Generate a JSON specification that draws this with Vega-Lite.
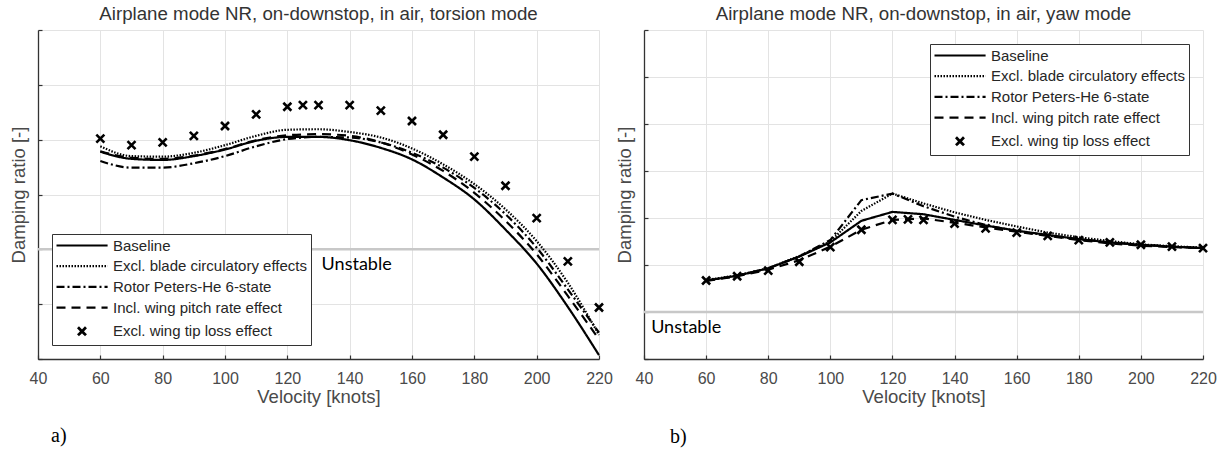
{
  "$schema": "https://vega.github.io/schema/vega-lite/v6.json",
  "padding": {"left": 9, "top": 4, "right": 0, "bottom": 0},
  "background": "white",
  "datasets": {
    "torsion": [
      {"series": "Baseline", "v": 60, "z": 1.78}, {"series": "Baseline", "v": 70, "z": 1.65}, {"series": "Baseline", "v": 80, "z": 1.63}, {"series": "Baseline", "v": 90, "z": 1.70}, {"series": "Baseline", "v": 100, "z": 1.82}, {"series": "Baseline", "v": 110, "z": 1.98}, {"series": "Baseline", "v": 120, "z": 2.05}, {"series": "Baseline", "v": 130, "z": 2.05}, {"series": "Baseline", "v": 140, "z": 1.99}, {"series": "Baseline", "v": 150, "z": 1.85}, {"series": "Baseline", "v": 160, "z": 1.64}, {"series": "Baseline", "v": 170, "z": 1.31}, {"series": "Baseline", "v": 180, "z": 0.91}, {"series": "Baseline", "v": 190, "z": 0.36}, {"series": "Baseline", "v": 200, "z": -0.26}, {"series": "Baseline", "v": 210, "z": -1.05}, {"series": "Baseline", "v": 220, "z": -1.93},
      {"series": "Excl. blade circulatory effects", "v": 60, "z": 1.88}, {"series": "Excl. blade circulatory effects", "v": 70, "z": 1.70}, {"series": "Excl. blade circulatory effects", "v": 80, "z": 1.69}, {"series": "Excl. blade circulatory effects", "v": 90, "z": 1.76}, {"series": "Excl. blade circulatory effects", "v": 100, "z": 1.90}, {"series": "Excl. blade circulatory effects", "v": 110, "z": 2.07}, {"series": "Excl. blade circulatory effects", "v": 120, "z": 2.18}, {"series": "Excl. blade circulatory effects", "v": 130, "z": 2.19}, {"series": "Excl. blade circulatory effects", "v": 140, "z": 2.14}, {"series": "Excl. blade circulatory effects", "v": 150, "z": 2.04}, {"series": "Excl. blade circulatory effects", "v": 160, "z": 1.84}, {"series": "Excl. blade circulatory effects", "v": 170, "z": 1.55}, {"series": "Excl. blade circulatory effects", "v": 180, "z": 1.19}, {"series": "Excl. blade circulatory effects", "v": 190, "z": 0.73}, {"series": "Excl. blade circulatory effects", "v": 200, "z": 0.15}, {"series": "Excl. blade circulatory effects", "v": 210, "z": -0.61}, {"series": "Excl. blade circulatory effects", "v": 220, "z": -1.56},
      {"series": "Rotor Peters-He 6-state", "v": 60, "z": 1.61}, {"series": "Rotor Peters-He 6-state", "v": 70, "z": 1.49}, {"series": "Rotor Peters-He 6-state", "v": 80, "z": 1.49}, {"series": "Rotor Peters-He 6-state", "v": 90, "z": 1.57}, {"series": "Rotor Peters-He 6-state", "v": 100, "z": 1.70}, {"series": "Rotor Peters-He 6-state", "v": 110, "z": 1.88}, {"series": "Rotor Peters-He 6-state", "v": 120, "z": 2.01}, {"series": "Rotor Peters-He 6-state", "v": 130, "z": 2.05}, {"series": "Rotor Peters-He 6-state", "v": 140, "z": 2.04}, {"series": "Rotor Peters-He 6-state", "v": 150, "z": 1.95}, {"series": "Rotor Peters-He 6-state", "v": 160, "z": 1.76}, {"series": "Rotor Peters-He 6-state", "v": 170, "z": 1.49}, {"series": "Rotor Peters-He 6-state", "v": 180, "z": 1.12}, {"series": "Rotor Peters-He 6-state", "v": 190, "z": 0.64}, {"series": "Rotor Peters-He 6-state", "v": 200, "z": 0.03}, {"series": "Rotor Peters-He 6-state", "v": 210, "z": -0.73}, {"series": "Rotor Peters-He 6-state", "v": 220, "z": -1.52},
      {"series": "Incl. wing pitch rate effect", "v": 60, "z": 1.79}, {"series": "Incl. wing pitch rate effect", "v": 70, "z": 1.67}, {"series": "Incl. wing pitch rate effect", "v": 80, "z": 1.65}, {"series": "Incl. wing pitch rate effect", "v": 90, "z": 1.71}, {"series": "Incl. wing pitch rate effect", "v": 100, "z": 1.83}, {"series": "Incl. wing pitch rate effect", "v": 110, "z": 1.99}, {"series": "Incl. wing pitch rate effect", "v": 120, "z": 2.08}, {"series": "Incl. wing pitch rate effect", "v": 130, "z": 2.10}, {"series": "Incl. wing pitch rate effect", "v": 140, "z": 2.07}, {"series": "Incl. wing pitch rate effect", "v": 150, "z": 1.95}, {"series": "Incl. wing pitch rate effect", "v": 160, "z": 1.73}, {"series": "Incl. wing pitch rate effect", "v": 170, "z": 1.43}, {"series": "Incl. wing pitch rate effect", "v": 180, "z": 1.03}, {"series": "Incl. wing pitch rate effect", "v": 190, "z": 0.52}, {"series": "Incl. wing pitch rate effect", "v": 200, "z": -0.09}, {"series": "Incl. wing pitch rate effect", "v": 210, "z": -0.85}, {"series": "Incl. wing pitch rate effect", "v": 220, "z": -1.64},
      {"series": "Excl. wing tip loss effect", "v": 60, "z": 2.02}, {"series": "Excl. wing tip loss effect", "v": 70, "z": 1.90}, {"series": "Excl. wing tip loss effect", "v": 80, "z": 1.95}, {"series": "Excl. wing tip loss effect", "v": 90, "z": 2.07}, {"series": "Excl. wing tip loss effect", "v": 100, "z": 2.25}, {"series": "Excl. wing tip loss effect", "v": 110, "z": 2.46}, {"series": "Excl. wing tip loss effect", "v": 120, "z": 2.60}, {"series": "Excl. wing tip loss effect", "v": 125, "z": 2.63}, {"series": "Excl. wing tip loss effect", "v": 130, "z": 2.63}, {"series": "Excl. wing tip loss effect", "v": 140, "z": 2.63}, {"series": "Excl. wing tip loss effect", "v": 150, "z": 2.53}, {"series": "Excl. wing tip loss effect", "v": 160, "z": 2.34}, {"series": "Excl. wing tip loss effect", "v": 170, "z": 2.09}, {"series": "Excl. wing tip loss effect", "v": 180, "z": 1.69}, {"series": "Excl. wing tip loss effect", "v": 190, "z": 1.16}, {"series": "Excl. wing tip loss effect", "v": 200, "z": 0.57}, {"series": "Excl. wing tip loss effect", "v": 210, "z": -0.22}, {"series": "Excl. wing tip loss effect", "v": 220, "z": -1.06}
    ],
    "yaw": [
      {"series": "Baseline", "v": 60, "z": 0.67}, {"series": "Baseline", "v": 70, "z": 0.77}, {"series": "Baseline", "v": 80, "z": 0.93}, {"series": "Baseline", "v": 90, "z": 1.18}, {"series": "Baseline", "v": 100, "z": 1.48}, {"series": "Baseline", "v": 110, "z": 1.94}, {"series": "Baseline", "v": 120, "z": 2.13}, {"series": "Baseline", "v": 130, "z": 2.08}, {"series": "Baseline", "v": 140, "z": 1.96}, {"series": "Baseline", "v": 150, "z": 1.84}, {"series": "Baseline", "v": 160, "z": 1.73}, {"series": "Baseline", "v": 170, "z": 1.64}, {"series": "Baseline", "v": 180, "z": 1.55}, {"series": "Baseline", "v": 190, "z": 1.48}, {"series": "Baseline", "v": 200, "z": 1.43}, {"series": "Baseline", "v": 210, "z": 1.39}, {"series": "Baseline", "v": 220, "z": 1.36},
      {"series": "Excl. blade circulatory effects", "v": 60, "z": 0.68}, {"series": "Excl. blade circulatory effects", "v": 70, "z": 0.78}, {"series": "Excl. blade circulatory effects", "v": 80, "z": 0.93}, {"series": "Excl. blade circulatory effects", "v": 90, "z": 1.19}, {"series": "Excl. blade circulatory effects", "v": 100, "z": 1.50}, {"series": "Excl. blade circulatory effects", "v": 110, "z": 2.15}, {"series": "Excl. blade circulatory effects", "v": 120, "z": 2.52}, {"series": "Excl. blade circulatory effects", "v": 130, "z": 2.31}, {"series": "Excl. blade circulatory effects", "v": 140, "z": 2.12}, {"series": "Excl. blade circulatory effects", "v": 150, "z": 1.96}, {"series": "Excl. blade circulatory effects", "v": 160, "z": 1.82}, {"series": "Excl. blade circulatory effects", "v": 170, "z": 1.69}, {"series": "Excl. blade circulatory effects", "v": 180, "z": 1.59}, {"series": "Excl. blade circulatory effects", "v": 190, "z": 1.51}, {"series": "Excl. blade circulatory effects", "v": 200, "z": 1.44}, {"series": "Excl. blade circulatory effects", "v": 210, "z": 1.40}, {"series": "Excl. blade circulatory effects", "v": 220, "z": 1.37},
      {"series": "Rotor Peters-He 6-state", "v": 60, "z": 0.67}, {"series": "Rotor Peters-He 6-state", "v": 70, "z": 0.77}, {"series": "Rotor Peters-He 6-state", "v": 80, "z": 0.93}, {"series": "Rotor Peters-He 6-state", "v": 90, "z": 1.18}, {"series": "Rotor Peters-He 6-state", "v": 100, "z": 1.53}, {"series": "Rotor Peters-He 6-state", "v": 110, "z": 2.38}, {"series": "Rotor Peters-He 6-state", "v": 120, "z": 2.52}, {"series": "Rotor Peters-He 6-state", "v": 130, "z": 2.25}, {"series": "Rotor Peters-He 6-state", "v": 140, "z": 2.03}, {"series": "Rotor Peters-He 6-state", "v": 150, "z": 1.85}, {"series": "Rotor Peters-He 6-state", "v": 160, "z": 1.72}, {"series": "Rotor Peters-He 6-state", "v": 170, "z": 1.63}, {"series": "Rotor Peters-He 6-state", "v": 180, "z": 1.55}, {"series": "Rotor Peters-He 6-state", "v": 190, "z": 1.48}, {"series": "Rotor Peters-He 6-state", "v": 200, "z": 1.43}, {"series": "Rotor Peters-He 6-state", "v": 210, "z": 1.39}, {"series": "Rotor Peters-He 6-state", "v": 220, "z": 1.36},
      {"series": "Incl. wing pitch rate effect", "v": 60, "z": 0.66}, {"series": "Incl. wing pitch rate effect", "v": 70, "z": 0.76}, {"series": "Incl. wing pitch rate effect", "v": 80, "z": 0.90}, {"series": "Incl. wing pitch rate effect", "v": 90, "z": 1.10}, {"series": "Incl. wing pitch rate effect", "v": 100, "z": 1.39}, {"series": "Incl. wing pitch rate effect", "v": 110, "z": 1.75}, {"series": "Incl. wing pitch rate effect", "v": 120, "z": 1.96}, {"series": "Incl. wing pitch rate effect", "v": 130, "z": 1.99}, {"series": "Incl. wing pitch rate effect", "v": 140, "z": 1.90}, {"series": "Incl. wing pitch rate effect", "v": 150, "z": 1.80}, {"series": "Incl. wing pitch rate effect", "v": 160, "z": 1.71}, {"series": "Incl. wing pitch rate effect", "v": 170, "z": 1.62}, {"series": "Incl. wing pitch rate effect", "v": 180, "z": 1.53}, {"series": "Incl. wing pitch rate effect", "v": 190, "z": 1.46}, {"series": "Incl. wing pitch rate effect", "v": 200, "z": 1.41}, {"series": "Incl. wing pitch rate effect", "v": 210, "z": 1.38}, {"series": "Incl. wing pitch rate effect", "v": 220, "z": 1.36},
      {"series": "Excl. wing tip loss effect", "v": 60, "z": 0.67}, {"series": "Excl. wing tip loss effect", "v": 70, "z": 0.76}, {"series": "Excl. wing tip loss effect", "v": 80, "z": 0.88}, {"series": "Excl. wing tip loss effect", "v": 90, "z": 1.07}, {"series": "Excl. wing tip loss effect", "v": 100, "z": 1.38}, {"series": "Excl. wing tip loss effect", "v": 110, "z": 1.75}, {"series": "Excl. wing tip loss effect", "v": 120, "z": 1.96}, {"series": "Excl. wing tip loss effect", "v": 125, "z": 1.97}, {"series": "Excl. wing tip loss effect", "v": 130, "z": 1.96}, {"series": "Excl. wing tip loss effect", "v": 140, "z": 1.88}, {"series": "Excl. wing tip loss effect", "v": 150, "z": 1.78}, {"series": "Excl. wing tip loss effect", "v": 160, "z": 1.69}, {"series": "Excl. wing tip loss effect", "v": 170, "z": 1.62}, {"series": "Excl. wing tip loss effect", "v": 180, "z": 1.53}, {"series": "Excl. wing tip loss effect", "v": 190, "z": 1.48}, {"series": "Excl. wing tip loss effect", "v": 200, "z": 1.43}, {"series": "Excl. wing tip loss effect", "v": 210, "z": 1.39}, {"series": "Excl. wing tip loss effect", "v": 220, "z": 1.36}
    ]
  },
  "hconcat": [
    {
      "width": 561,
      "height": 329,
      "title": "Airplane mode NR, on-downstop, in air, torsion mode",
      "layer": [
        {
          "data": {"values": [{}]},
          "mark": {"type": "rule", "color": "#c8c8c8", "strokeWidth": 2.5},
          "encoding": {"y": {"datum": 0, "type": "quantitative", "scale": {"domain": [-2, 4], "nice": false}}}
        },
        {
          "data": {"name": "torsion"},
          "transform": [{"filter": "datum.series !== 'Excl. wing tip loss effect'"}],
          "mark": {"type": "line", "color": "black", "strokeWidth": 2.2, "interpolate": "monotone"},
          "encoding": {
            "x": {"field": "v", "type": "quantitative", "title": "Velocity [knots]", "scale": {"domain": [40, 220], "nice": false}, "axis": {"values": [40, 60, 80, 100, 120, 140, 160, 180, 200, 220]}},
            "y": {"field": "z", "type": "quantitative", "title": "Damping ratio [-]", "scale": {"domain": [-2, 4], "nice": false}, "axis": {"values": [-2, -1, 0, 1, 2, 3, 4], "labels": false}},
            "strokeDash": {
              "field": "series", "type": "nominal",
              "scale": {"domain": ["Baseline", "Excl. blade circulatory effects", "Rotor Peters-He 6-state", "Incl. wing pitch rate effect", "Excl. wing tip loss effect"], "range": [[1, 0], [1.5, 1.5], [8, 3, 2, 3], [9, 6], [1, 0]]},
              "legend": {"orient": "bottom-left", "offset": 14, "title": null,
                "encode": {"symbols": {"update": {"shape": {"signal": "datum.value === 'Excl. wing tip loss effect' ? 'M2.07,-0.57L3.21,0.57M3.21,-0.57L2.07,0.57' : 'M-1,0H6.3'"}, "strokeWidth": {"signal": "datum.value === 'Excl. wing tip loss effect' ? 2.8 : 2.2"}}}}}
            }
          }
        },
        {
          "data": {"name": "torsion"},
          "transform": [{"filter": "datum.series === 'Excl. wing tip loss effect'"}],
          "mark": {"type": "point", "shape": "M-1,-1L1,1M1,-1L-1,1", "size": 64, "filled": false, "color": "black", "strokeWidth": 2.6, "opacity": 1},
          "encoding": {
            "x": {"field": "v", "type": "quantitative", "scale": {"domain": [40, 220], "nice": false}},
            "y": {"field": "z", "type": "quantitative", "scale": {"domain": [-2, 4], "nice": false}}
          }
        },
        {
          "data": {"values": [{}]},
          "mark": {"type": "text", "text": "Unstable", "font": "Lato", "fontSize": 18, "align": "left", "baseline": "middle", "fill": "black"},
          "encoding": {
            "x": {"datum": 131, "type": "quantitative", "scale": {"domain": [40, 220], "nice": false}},
            "y": {"datum": -0.29, "type": "quantitative", "scale": {"domain": [-2, 4], "nice": false}}
          }
        },
        {
          "data": {"values": [{}]},
          "mark": {"type": "text", "text": "a)", "font": "Liberation Serif", "fontSize": 20, "align": "left", "baseline": "middle", "fill": "black"},
          "encoding": {
            "x": {"datum": 44.2, "type": "quantitative", "scale": {"domain": [40, 220], "nice": false}},
            "y": {"datum": -3.41, "type": "quantitative", "scale": {"domain": [-2, 4], "nice": false}}
          }
        }
      ]
    },
    {
      "width": 559,
      "height": 329,
      "title": "Airplane mode NR, on-downstop, in air, yaw mode",
      "layer": [
        {
          "data": {"values": [{}]},
          "mark": {"type": "rule", "color": "#c8c8c8", "strokeWidth": 2.5},
          "encoding": {"y": {"datum": 0, "type": "quantitative", "scale": {"domain": [-1, 6], "nice": false}}}
        },
        {
          "data": {"name": "yaw"},
          "transform": [{"filter": "datum.series !== 'Excl. wing tip loss effect'"}],
          "mark": {"type": "line", "color": "black", "strokeWidth": 2.2},
          "encoding": {
            "x": {"field": "v", "type": "quantitative", "title": "Velocity [knots]", "scale": {"domain": [40, 220], "nice": false}, "axis": {"values": [40, 60, 80, 100, 120, 140, 160, 180, 200, 220]}},
            "y": {"field": "z", "type": "quantitative", "title": "Damping ratio [-]", "scale": {"domain": [-1, 6], "nice": false}, "axis": {"values": [-1, 0, 1, 2, 3, 4, 5, 6], "labels": false}},
            "strokeDash": {
              "field": "series", "type": "nominal",
              "scale": {"domain": ["Baseline", "Excl. blade circulatory effects", "Rotor Peters-He 6-state", "Incl. wing pitch rate effect", "Excl. wing tip loss effect"], "range": [[1, 0], [1.5, 1.5], [8, 3, 2, 3], [9, 6], [1, 0]]},
              "legend": {"orient": "top-right", "offset": 14, "title": null,
                "encode": {"symbols": {"update": {"shape": {"signal": "datum.value === 'Excl. wing tip loss effect' ? 'M2.07,-0.57L3.21,0.57M3.21,-0.57L2.07,0.57' : 'M-1,0H6.3'"}, "strokeWidth": {"signal": "datum.value === 'Excl. wing tip loss effect' ? 2.8 : 2.2"}}}}}
            }
          }
        },
        {
          "data": {"name": "yaw"},
          "transform": [{"filter": "datum.series === 'Excl. wing tip loss effect'"}],
          "mark": {"type": "point", "shape": "M-1,-1L1,1M1,-1L-1,1", "size": 64, "filled": false, "color": "black", "strokeWidth": 2.6, "opacity": 1},
          "encoding": {
            "x": {"field": "v", "type": "quantitative", "scale": {"domain": [40, 220], "nice": false}},
            "y": {"field": "z", "type": "quantitative", "scale": {"domain": [-1, 6], "nice": false}}
          }
        },
        {
          "data": {"values": [{}]},
          "mark": {"type": "text", "text": "Unstable", "font": "Lato", "fontSize": 18, "align": "left", "baseline": "middle", "fill": "black"},
          "encoding": {
            "x": {"datum": 42.3, "type": "quantitative", "scale": {"domain": [40, 220], "nice": false}},
            "y": {"datum": -0.34, "type": "quantitative", "scale": {"domain": [-1, 6], "nice": false}}
          }
        },
        {
          "data": {"values": [{}]},
          "mark": {"type": "text", "text": "b)", "font": "Liberation Serif", "fontSize": 20, "align": "left", "baseline": "middle", "fill": "black"},
          "encoding": {
            "x": {"datum": 48.4, "type": "quantitative", "scale": {"domain": [40, 220], "nice": false}},
            "y": {"datum": -2.66, "type": "quantitative", "scale": {"domain": [-1, 6], "nice": false}}
          }
        }
      ]
    }
  ],
  "spacing": 2,
  "resolve": {"scale": {"strokeDash": "independent", "x": "independent", "y": "independent"}, "legend": {"strokeDash": "independent"}},
  "config": {
    "view": {"stroke": null},
    "font": "Liberation Sans",
    "title": {"font": "Liberation Sans", "fontSize": 18.7, "fontWeight": "normal", "color": "#333333", "offset": 6, "anchor": "middle"},
    "axis": {
      "grid": true, "gridColor": "#e3e3e3", "gridWidth": 1,
      "domainColor": "#333333", "domainWidth": 1.3,
      "tickColor": "#333333", "tickSize": -4, "tickWidth": 1.2,
      "labelFont": "Liberation Sans", "labelFontSize": 16, "labelColor": "#4a4a4a", "labelPadding": 15, "labelFlush": false,
      "titleFont": "Liberation Sans", "titleFontSize": 18.5, "titleFontWeight": "normal", "titleColor": "#4a4a4a"
    },
    "axisX": {"titlePadding": 1},
    "axisY": {"titlePadding": 9},
    "legend": {
      "labelFont": "Liberation Sans", "labelFontSize": 15, "labelColor": "#262626", "labelLimit": 400,
      "strokeColor": "#333333", "fillColor": "white", "padding": 4, "cornerRadius": 0,
      "symbolSize": 196, "symbolStrokeColor": "black", "symbolFillColor": "transparent", "symbolStrokeWidth": 2.2,
      "labelOffset": 42, "rowPadding": 4.7
    }
  }
}
